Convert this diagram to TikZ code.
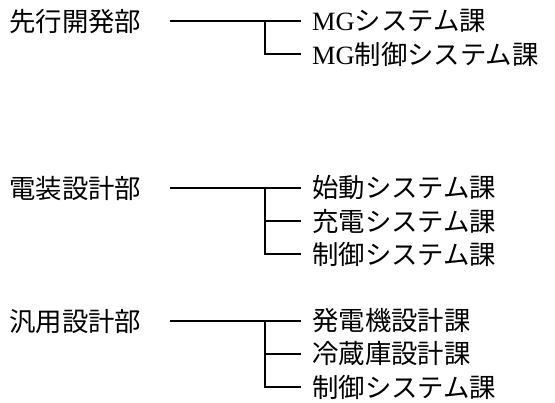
\documentclass[tikz,border=0pt]{standalone}
\usepackage{fontspec}
\newfontfamily\cjk{Noto Sans CJK JP}
\newfontfamily\lat{Liberation Serif}
\begin{document}
\begin{tikzpicture}[x=1pt,y=-1pt,
  dept/.style={anchor=west, inner sep=0pt, font=\cjk\fontsize{26.4}{30}\selectfont},
  sect/.style={anchor=west, inner xsep=11pt, inner ysep=0pt, font=\cjk\fontsize{26.4}{30}\selectfont},
  conn/.style={line width=1.6pt, black}]
\useasboundingbox (0,0) rectangle (555,403);
% group 1
\node[dept] (d1) at (9,22) {先行開発部};
\coordinate (s1) at (170,21);
\coordinate (j1) at (265,21);
\node[sect] (c11) at (301,21) {{\lat MG}システム課};
\node[sect] (c12) at (301,54) {{\lat MG}制御システム課};
\draw[conn] (s1) -- (c11.west);
\draw[conn] (j1) |- (c12.west);
% group 2
\node[dept] (d2) at (9,189) {電装設計部};
\coordinate (s2) at (170,188);
\coordinate (j2) at (265,188);
\node[sect] (c21) at (301,188) {始動システム課};
\node[sect] (c22) at (301,221) {充電システム課};
\node[sect] (c23) at (301,254) {制御システム課};
\draw[conn] (s2) -- (c21.west);
\draw[conn] (j2) |- (c22.west);
\draw[conn] (j2) |- (c23.west);
% group 3
\node[dept] (d3) at (9,322) {汎用設計部};
\coordinate (s3) at (170,321);
\coordinate (j3) at (265,321);
\node[sect] (c31) at (301,321) {発電機設計課};
\node[sect] (c32) at (301,354) {冷蔵庫設計課};
\node[sect] (c33) at (301,387) {制御システム課};
\draw[conn] (s3) -- (c31.west);
\draw[conn] (j3) |- (c32.west);
\draw[conn] (j3) |- (c33.west);
\end{tikzpicture}
\end{document}
